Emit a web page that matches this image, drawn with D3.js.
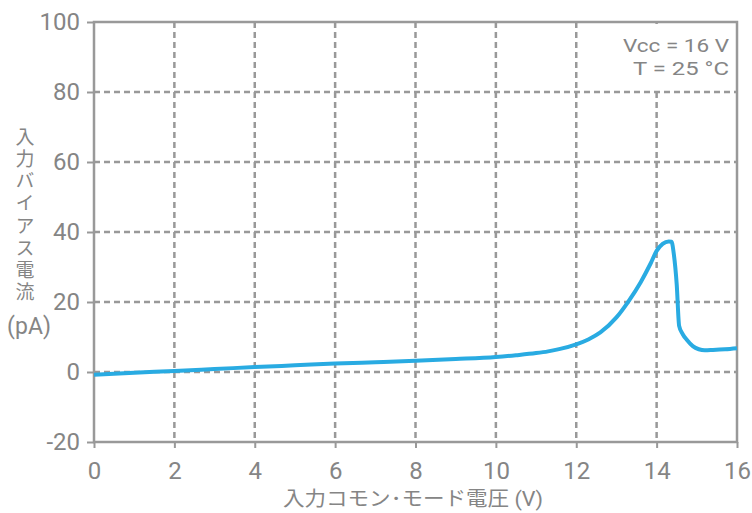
<!DOCTYPE html>
<html>
<head>
<meta charset="utf-8">
<script src="https://cdn.jsdelivr.net/npm/d3@7"></script>
<style>
  body { margin: 0; background: #fff; }
  svg text { font-family: Roboto, "Liberation Sans", sans-serif; font-weight: 400; fill: #858585; }
  .jp { font-family: "Noto Sans CJK JP", sans-serif; font-weight: 400; }
</style>
</head>
<body>
<svg id="chart" width="752" height="513"></svg>
<script>
// input common-mode voltage (V)
let voltage = [0, 1, 2, 3, 4, 5, 6, 7, 8, 9, 10, 10.5, 11, 11.3, 11.6, 12, 12.3, 12.6, 13, 13.3, 13.6, 13.85, 14, 14.15, 14.3, 14.37, 14.43, 14.5, 14.56, 14.65, 14.75, 14.9, 15.05, 15.2, 15.4, 15.7, 16];
// input bias current (pA)
let biasCurrent = [-0.8, -0.2, 0.3, 0.85, 1.4, 1.9, 2.4, 2.8, 3.2, 3.7, 4.3, 4.8, 5.4, 5.9, 6.6, 7.9, 9.3, 11.3, 15.6, 20.2, 25.6, 31, 34.6, 36.6, 37.3, 37.2, 33.5, 25, 13.2, 10.8, 9.2, 7.4, 6.5, 6.2, 6.3, 6.5, 6.8];

let xTicks = [0, 2, 4, 6, 8, 10, 12, 14, 16];
let yTicks = [-20, 0, 20, 40, 60, 80, 100];
let yTitle = "入力バイアス電流";
let legendLines = ["Vcc = 16 V", "T = 25 °C"];

const svg = d3.select("#chart");
const m = {left: 94, right: 737, top: 22, bottom: 442};
const gray = "#999";

let x = d3.scaleLinear().domain([0, 16]).range([m.left, m.right]);
let y = d3.scaleLinear().domain([-20, 100]).range([m.bottom, m.top]);

// grid lines
svg.append("g").selectAll("line")
    .data(xTicks.filter(d => d > 0 && d < 16))
    .join("line")
    .attr("x1", d => x(d)).attr("x2", d => x(d))
    .attr("y1", m.top).attr("y2", m.bottom)
    .attr("stroke", gray).attr("stroke-width", 2.5)
    .attr("stroke-dasharray", "6,4");

svg.append("g").selectAll("line")
    .data(yTicks.filter(d => d > -20 && d < 100))
    .join("line")
    .attr("x1", m.left).attr("x2", m.right)
    .attr("y1", d => y(d)).attr("y2", d => y(d))
    .attr("stroke", gray).attr("stroke-width", 2.5)
    .attr("stroke-dasharray", "6,4");

// white box behind the conditions text
svg.append("rect")
    .attr("x", 600).attr("y", m.top + 2)
    .attr("width", m.right - 602).attr("height", y(80) - m.top - 6)
    .attr("fill", "#fff");

// axes
let xAxis = d3.axisBottom(x).tickValues(xTicks).tickSize(6).tickPadding(14).tickFormat(d => String(d));
let gx = svg.append("g").attr("transform", `translate(0,${m.bottom})`).call(xAxis);
let yAxis = d3.axisLeft(y).tickValues(yTicks).tickSize(7).tickPadding(7).tickFormat(d => String(d));
let gy = svg.append("g").attr("transform", `translate(${m.left},0)`).call(yAxis);

[gx, gy].forEach(g => {
    g.select(".domain").remove();
    g.selectAll(".tick line").attr("stroke", gray).attr("stroke-width", 2);
    g.selectAll(".tick text")
        .attr("fill", "#858585")
        .style("font-size", "24px")
        .style("font-family", "Roboto, \"Liberation Sans\", sans-serif");
});

// frame
svg.append("rect")
    .attr("x", m.left).attr("y", m.top)
    .attr("width", m.right - m.left).attr("height", m.bottom - m.top)
    .attr("fill", "none").attr("stroke", gray).attr("stroke-width", 2.5);

// curve
let pts = voltage.map((v, i) => [v, biasCurrent[i]]);
let line = d3.line()
    .x(d => x(d[0]))
    .y(d => y(d[1]))
    .curve(d3.curveMonotoneX);

svg.append("path")
    .datum(pts)
    .attr("d", line)
    .attr("fill", "none")
    .attr("stroke", "#29abe2")
    .attr("stroke-width", 4)
    .attr("stroke-linejoin", "round");

// conditions
svg.append("g").selectAll("text")
    .data(legendLines)
    .join("text")
    .attr("x", m.right - 8)
    .attr("y", (d, i) => 52 + i * 22.5)
    .attr("text-anchor", "end")
    .attr("textLength", (d, i) => [106, 96][i])
    .attr("lengthAdjust", "spacingAndGlyphs")
    .style("font-size", "19px")
    .text(d => d);

// y title, written top to bottom
svg.append("text")
    .attr("class", "jp")
    .attr("x", 25).attr("y", 127)
    .style("writing-mode", "vertical-rl")
    .style("text-orientation", "upright")
    .style("font-size", "19px")
    .style("letter-spacing", "3.2px")
    .text(yTitle);
svg.append("text")
    .attr("x", 29).attr("y", 334)
    .attr("text-anchor", "middle")
    .style("font-size", "23px")
    .text("(pA)");

// x title
svg.append("text")
    .attr("x", 413).attr("y", 506)
    .attr("text-anchor", "middle")
    .attr("textLength", 260)
    .attr("lengthAdjust", "spacingAndGlyphs")
    .style("font-size", "20px")
    .html('<tspan class="jp">入力コモン･モード電圧</tspan> (V)');
</script>
</body>
</html>
